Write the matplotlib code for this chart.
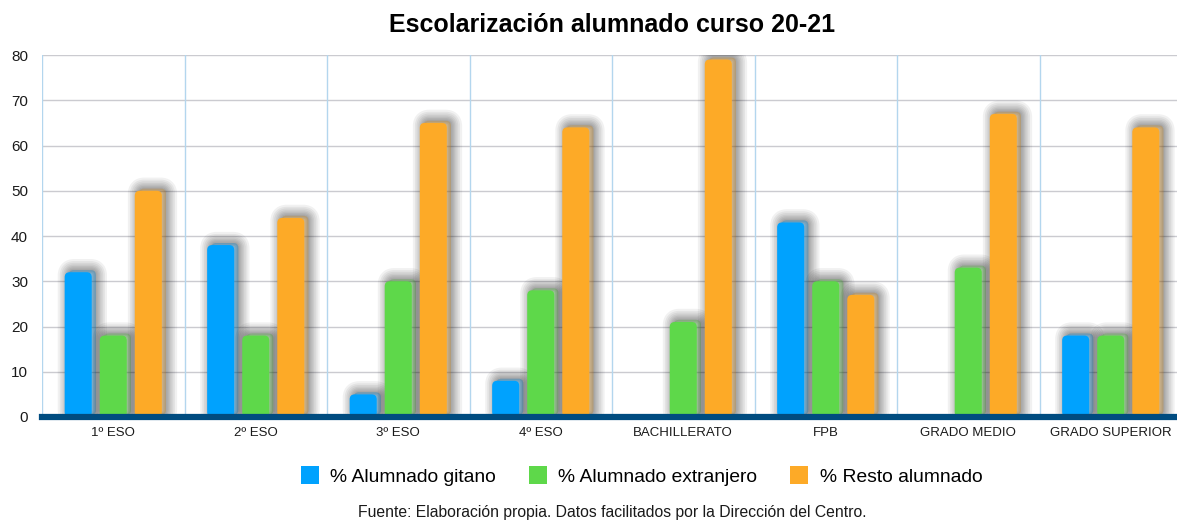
import matplotlib

matplotlib.use("Agg")
import matplotlib.pyplot as plt
import matplotlib.patheffects as pe
from matplotlib.patches import FancyBboxPatch, Patch
import numpy as np

plt.rcParams["font.family"] = ["Liberation Sans", "DejaVu Sans"]

CATEGORIES = ["1º ESO", "2º ESO", "3º ESO", "4º ESO", "BACHILLERATO", "FPB",
              "GRADO MEDIO", "GRADO SUPERIOR"]
GITANO = [32, 38, 5, 8, 0, 43, 0, 18]
EXTRANJERO = [18, 18, 30, 28, 21, 30, 33, 18]
RESTO = [50, 44, 65, 64, 79, 27, 67, 64]
SERIES = [
    ("% Alumnado gitano", GITANO, "#00a2fe"),
    ("% Alumnado extranjero", EXTRANJERO, "#5ed84a"),
    ("% Resto alumnado", RESTO, "#fdaa27"),
]
YTICKS = [0, 10, 20, 30, 40, 50, 60, 70, 80]

fig = plt.figure(figsize=(11.77, 5.23), dpi=100)
ax = fig.add_axes([42 / 1177, 106 / 523, 1135 / 1177, 362 / 523])

x = np.arange(len(CATEGORIES))
step = 0.246
width = 0.19

# soft dark glow, shifted right/up like the original drop shadow
glow = [
    pe.Stroke(linewidth=lw, foreground="black", alpha=0.055,
              offset=(3, 1.5), joinstyle="round")
    for lw in (16, 13, 10.5, 8, 6, 4, 2)
] + [pe.Normal()]

px_x = 142.5
px_y = 362 / 80
radius = 5.0
for i, (label, values, color) in enumerate(SERIES):
    bars = ax.bar(x + (i - 1) * step, values, width, color=color)
    for rect, value in zip(bars.patches, values):
        rect.remove()
        if value <= 0:
            continue
        r = radius / px_x
        box = FancyBboxPatch(
            (rect.get_x(), rect.get_y()), rect.get_width(), rect.get_height(),
            boxstyle=f"round,pad=0,rounding_size={r}",
            mutation_aspect=(radius / px_y) / r,
            facecolor=color, edgecolor="none", zorder=3,
        )
        box.set_path_effects(glow)
        ax.add_patch(box)

ax.set_xlim(-0.5, len(CATEGORIES) - 0.5 - 5 / px_x)
ax.set_ylim(0, 80)

# baseline
ax.axhline(0, color="#004c80", linewidth=4.5, zorder=5, clip_on=False)

# grid
for y in YTICKS[1:]:
    ax.axhline(y, color="#cbcbd0", linewidth=1, zorder=1)
for b in np.arange(len(CATEGORIES) + 1) - 0.5:
    ax.axvline(b, color="#b3d6ee", linewidth=1, zorder=1)

for s in ax.spines.values():
    s.set_visible(False)

ax.set_yticks(YTICKS)
ax.set_yticklabels([str(v) for v in YTICKS], fontsize=11, color="#1a1a1a")
ax.set_xticks(x)
ax.set_xticklabels(CATEGORIES, fontsize=9.5, color="#1a1a1a")
ax.tick_params(axis="both", length=0)
ax.tick_params(axis="y", pad=10)
ax.tick_params(axis="x", pad=7)

fig.text(0.520, 0.952, "Escolarización alumnado curso 20-21", ha="center",
         va="center", fontsize=18, fontweight="bold")

handles = [Patch(facecolor=c, edgecolor="none", label=l) for l, _, c in SERIES]
fig.legend(handles=handles, loc="center", bbox_to_anchor=(0.545, 0.09),
           ncol=3, frameon=False, fontsize=13.9, handlelength=0.93,
           handleheight=1.0, handletextpad=0.6, columnspacing=1.7)

fig.text(0.520, 0.021, "Fuente: Elaboración propia. Datos facilitados por la "
         "Dirección del Centro.", ha="center", va="center", fontsize=11.3,
         color="#1a1a1a")

fig.savefig("out.png", dpi=100)
